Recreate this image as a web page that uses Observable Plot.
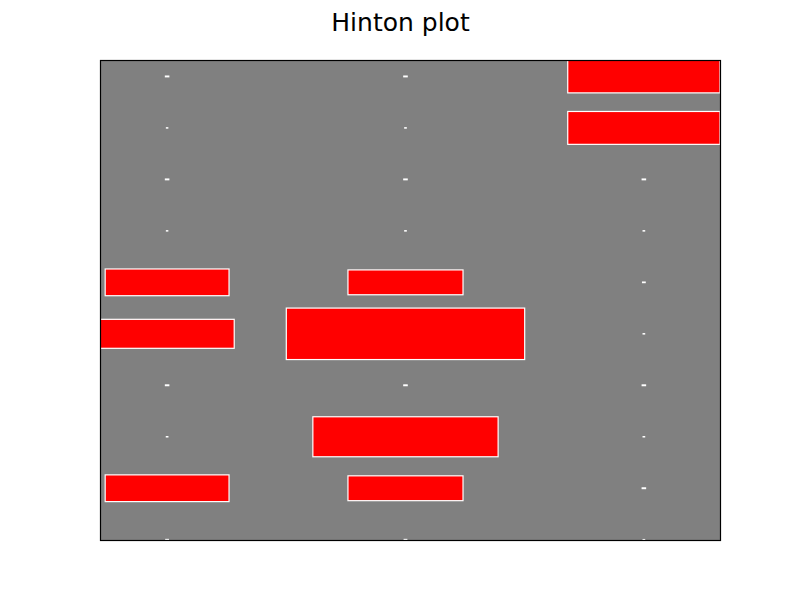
<!DOCTYPE html>
<html>
<head>
<meta charset="utf-8">
<script src="https://cdn.jsdelivr.net/npm/d3@7"></script>
<script src="https://cdn.jsdelivr.net/npm/@observablehq/plot@0.6"></script>
<style>
  html, body { margin: 0; padding: 0; background: #fff; }
</style>
</head>
<body>
<div id="chart"></div>
<script>
// Hinton weight matrix: 10 rows x 3 columns (box side = sqrt(|w| / max|w|))
const rows = [0, 1, 2, 3, 4, 5, 6, 7, 8, 9];
const cols = [0, 1, 2];
const col0 = [0.0002, 0.00003, 0.0002, 0.00003, 0.27, 0.317, 0.0002, 0.00004, 0.27, 0.00012];
const col1 = [0.0002, 0.00004, 0.0002, 0.00004, 0.233, 1.0, 0.0002, 0.604, 0.233, 0.00012];
const col2 = [0.408, 0.408, 0.0002, 0.00004, 0.00012, 0.00004, 0.0002, 0.00004, 0.0002, 0.00004];
const columns = [col0, col1, col2];
const redThreshold = 0.05;

const maxW = d3.max(columns.flat(), Math.abs);
const cells = [];
cols.forEach(c => rows.forEach(r => {
  const w = columns[c][r];
  const s = Math.sqrt(Math.abs(w) / maxW);
  cells.push({
    x1: c - s / 2, x2: c + s / 2,
    y1: r - s / 2, y2: r + s / 2,
    color: Math.abs(w) > redThreshold ? "red" : "white"
  });
}));

const xDomain = [d3.min(cells, d => d.x1), d3.max(cells, d => d.x2)];
const yDomain = [d3.min(cells, d => d.y1), d3.max(cells, d => d.y2)];

const chart = Plot.plot({
  width: 800,
  height: 600,
  marginLeft: 100,
  marginRight: 80,
  marginTop: 60,
  marginBottom: 60,
  style: { fontFamily: "DejaVu Sans", background: "white" },
  x: { domain: xDomain, axis: null },
  y: { domain: yDomain, reverse: true, axis: null },
  marks: [
    Plot.frame({ fill: "#808080" }),
    Plot.rect(cells, {
      x1: "x1", x2: "x2", y1: "y1", y2: "y2",
      fill: "color", stroke: "white", strokeWidth: 1.2,
      clip: true
    }),
    Plot.frame({ stroke: "black", strokeWidth: 1.2 }),
    Plot.text(["Hinton plot"], {
      frameAnchor: "top", dx: -10, dy: -47, fontSize: 25, fill: "black"
    })
  ]
});
document.getElementById("chart").appendChild(chart);
</script>
</body>
</html>
